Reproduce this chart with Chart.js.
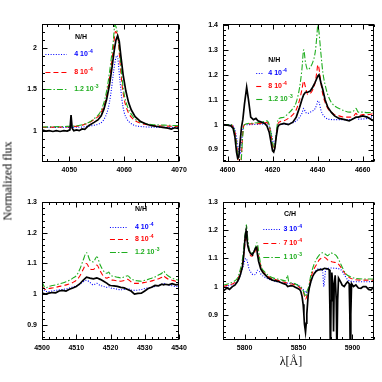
<!DOCTYPE html>
<html>
<head>
<meta charset="utf-8">
<script src="https://cdn.jsdelivr.net/npm/chart.js@4.4.0/dist/chart.umd.min.js"></script>
<style>
body{margin:0;background:#fff;width:382px;height:382px;position:relative;overflow:hidden}
canvas{position:absolute}
#ylab{position:absolute;left:8px;top:181px;transform:translate(-50%,-50%) rotate(-90deg);font:12px "Liberation Serif";white-space:nowrap;color:#000}
#xlab{position:absolute;left:291px;top:361px;transform:translate(-50%,-50%);font:12px "Liberation Serif";white-space:nowrap;color:#000}
</style>
</head>
<body>
<canvas id="c1"></canvas>
<canvas id="c2"></canvas>
<canvas id="c3"></canvas>
<canvas id="c4"></canvas>
<div id="ylab">Normalized flux</div>
<div id="xlab">λ[Å]</div>
<script>
// ---- legend text
var nhMant = ["4", "8", "1.2"];
var nhExp = ["-4", "-4", "-3"];
var chMant = ["3", "7", "1"];
var chExp = ["-4", "-4", "-3"];

// ---- axis ticks
var p1XTicks = [4050, 4060, 4070];
var p1YTicks = [1, 1.5, 2];
var p2XTicks = [4600, 4620, 4640, 4660];
var p2YTicks = [0.9, 1, 1.1, 1.2, 1.3, 1.4];
var p3XTicks = [4500, 4510, 4520, 4530, 4540];
var p3YTicks = [0.9, 1, 1.1, 1.2, 1.3];
var p4XTicks = [5800, 5850, 5900];
var p4YTicks = [0.9, 1, 1.1, 1.2, 1.3];

// ---- panel 1 : 4058 region  [wavelength, flux]
var p1Observed = [[4045,1.01],[4045.7,0.995],[4046.3,1.0],[4047,0.99],[4047.6,1.0],[4048.3,0.99],[4049,1.0],[4049.6,0.995],[4050.1,1.01],[4050.3,1.19],[4050.5,1.03],[4050.8,1.0],[4051.3,1.01],[4051.8,1.0],[4052.3,1.02],[4052.8,1.015],[4053.5,1.06],[4054.5,1.10],[4055.2,1.13],[4055.8,1.18],[4056.3,1.26],[4056.8,1.38],[4057.3,1.55],[4057.8,1.78],[4058.2,1.98],[4058.5,2.10],[4058.8,2.15],[4059.1,2.08],[4059.4,1.90],[4059.8,1.68],[4060.3,1.48],[4060.8,1.34],[4061.3,1.25],[4062,1.17],[4063,1.11],[4064,1.08],[4065,1.06],[4066,1.05],[4067,1.04],[4068,1.03],[4068.6,1.02],[4069.2,1.035],[4070,1.025]];
var p1Low = [[4045,1.04],[4050,1.04],[4052.5,1.045],[4053.5,1.055],[4054.5,1.065],[4055.5,1.085],[4056,1.11],[4056.5,1.16],[4057,1.25],[4057.5,1.42],[4058,1.68],[4058.4,1.86],[4058.7,1.91],[4059.2,1.62],[4059.6,1.37],[4060,1.22],[4060.5,1.14],[4061,1.10],[4061.5,1.075],[4062,1.06],[4063,1.05],[4064,1.045],[4066,1.04],[4070,1.04]];
var p1Mid = [[4045,1.04],[4049,1.045],[4051.5,1.055],[4052.5,1.07],[4053.5,1.095],[4054.5,1.135],[4055.5,1.19],[4056,1.25],[4056.5,1.34],[4057,1.50],[4057.5,1.72],[4058,1.98],[4058.4,2.20],[4058.8,2.15],[4059.2,1.86],[4059.6,1.56],[4060,1.38],[4060.5,1.26],[4061,1.19],[4061.5,1.15],[4062,1.12],[4063,1.09],[4064,1.075],[4065,1.065],[4066,1.06],[4068,1.055],[4070,1.05]];
var p1High = [[4045,1.045],[4049,1.05],[4051.5,1.06],[4052.5,1.075],[4053.5,1.10],[4054.5,1.145],[4055.5,1.21],[4056,1.28],[4056.5,1.39],[4057,1.56],[4057.5,1.80],[4058,2.08],[4058.3,2.28],[4058.7,2.20],[4059.2,1.93],[4059.6,1.64],[4060,1.44],[4060.5,1.31],[4061,1.23],[4061.5,1.18],[4062,1.14],[4063,1.105],[4064,1.085],[4065,1.075],[4066,1.07],[4068,1.065],[4070,1.06]];

// ---- panel 2 : 4600-4660 region
var p2Observed = [[4598,1.0],[4600,0.998],[4601.5,0.995],[4602.5,0.985],[4603.3,0.95],[4604,0.89],[4604.5,0.865],[4605,0.87],[4605.6,0.93],[4606.2,0.99],[4606.8,1.02],[4607.5,1.08],[4608.5,1.15],[4609.3,1.10],[4610.3,1.03],[4611.5,1.02],[4612.6,1.025],[4613.5,1.015],[4615,1.01],[4616.5,1.005],[4617.5,0.995],[4618.5,0.97],[4619.3,0.93],[4620,0.895],[4620.5,0.89],[4621,0.905],[4621.6,0.95],[4622.3,0.99],[4623,1.0],[4625,1.005],[4627,1.0],[4629,1.01],[4630.5,1.03],[4632,1.07],[4633,1.10],[4633.8,1.12],[4634.6,1.13],[4635.6,1.13],[4636.7,1.135],[4637.8,1.15],[4638.9,1.17],[4639.6,1.185],[4640.1,1.195],[4640.6,1.20],[4641.4,1.17],[4642.3,1.14],[4643.3,1.10],[4644.5,1.07],[4646,1.05],[4647.5,1.035],[4649.5,1.025],[4652,1.02],[4654,1.015],[4656,1.025],[4657,1.03],[4658,1.03],[4660,1.035],[4662,1.03],[4665,1.015]];
var p2Low = [[4598,1.0],[4601.5,1.0],[4602.5,0.995],[4603.3,0.98],[4604,0.95],[4604.5,0.92],[4605,0.895],[4605.6,0.88],[4606.2,0.92],[4606.8,0.98],[4607.5,1.0],[4610,1.0],[4615,1.002],[4617.5,1.003],[4618.5,0.995],[4619.3,0.97],[4620,0.94],[4620.5,0.925],[4621,0.93],[4621.6,0.96],[4622.3,0.995],[4623,1.0],[4627,1.003],[4630.5,1.015],[4632,1.03],[4633,1.045],[4633.8,1.065],[4634.6,1.05],[4635.6,1.045],[4636.7,1.05],[4637.8,1.055],[4638.9,1.065],[4639.6,1.08],[4640.1,1.095],[4640.6,1.09],[4641.4,1.06],[4642.3,1.04],[4643.3,1.03],[4644.5,1.022],[4647.5,1.02],[4652,1.02],[4656,1.023],[4657,1.03],[4658,1.022],[4662,1.025],[4665,1.035]];
var p2Mid = [[4598,1.0],[4601.5,1.0],[4602.5,0.99],[4603.3,0.97],[4604,0.93],[4604.5,0.88],[4605,0.84],[4605.6,0.82],[4606.2,0.88],[4606.8,0.97],[4607.5,1.0],[4610,1.003],[4615,1.005],[4617.5,1.008],[4618.5,0.995],[4619.3,0.96],[4620,0.92],[4620.5,0.90],[4621,0.91],[4621.6,0.95],[4622.3,1.0],[4623,1.01],[4625,1.015],[4627,1.025],[4629,1.04],[4630.5,1.06],[4632,1.10],[4633,1.14],[4633.8,1.175],[4634.6,1.15],[4635.6,1.12],[4636.7,1.125],[4637.8,1.14],[4638.9,1.17],[4639.6,1.21],[4640.1,1.24],[4640.6,1.225],[4641.4,1.17],[4642.3,1.12],[4643.3,1.09],[4644.5,1.065],[4646,1.05],[4647.5,1.04],[4649.5,1.035],[4652,1.03],[4654,1.03],[4656,1.035],[4657,1.045],[4658,1.035],[4660,1.04],[4662,1.04],[4665,1.045]];
var p2High = [[4598,1.0],[4601.5,1.0],[4602.5,0.99],[4603.3,0.965],[4604,0.92],[4604.5,0.87],[4605,0.83],[4605.6,0.81],[4606.2,0.87],[4606.8,0.96],[4607.5,1.0],[4610,1.005],[4615,1.01],[4617.5,1.015],[4618.5,1.0],[4619.3,0.965],[4620,0.93],[4620.5,0.91],[4621,0.92],[4621.6,0.96],[4622.3,1.015],[4623,1.025],[4625,1.03],[4627,1.045],[4629,1.065],[4630.5,1.09],[4632,1.15],[4633,1.22],[4633.8,1.30],[4634.6,1.25],[4635.6,1.22],[4636.7,1.23],[4637.8,1.25],[4638.9,1.29],[4639.6,1.35],[4640.1,1.40],[4640.6,1.37],[4641.4,1.29],[4642.3,1.21],[4643.3,1.16],[4644.5,1.12],[4646,1.09],[4647.5,1.075],[4649.5,1.065],[4652,1.055],[4654,1.05],[4656,1.055],[4657,1.065],[4658,1.05],[4660,1.05],[4662,1.048],[4665,1.05]];

// ---- panel 3 : 4500-4540 region (shared wavelength grid)
var p3Wave = [4500,4501,4502,4503,4504,4505,4506,4507,4508,4509,4510,4511,4512,4513,4514,4515,4516,4517,4518,4519,4519.5,4520,4521,4522,4523,4524,4525,4526,4527,4528,4529,4530,4531,4532,4533,4534,4535,4535.5,4536,4537,4538,4539,4540];
var p3Observed = [1.003,1.0,1.003,1.005,1.004,1.01,1.012,1.01,1.016,1.02,1.025,1.033,1.045,1.055,1.052,1.05,1.053,1.048,1.042,1.035,1.03,1.028,1.027,1.025,1.022,1.02,1.015,1.01,1.0,1.002,1.003,1.01,1.018,1.022,1.028,1.027,1.032,1.03,1.032,1.03,1.034,1.03,1.032];
var p3Low = [1.02,1.01,1.008,1.01,1.012,1.014,1.015,1.017,1.02,1.023,1.027,1.032,1.040,1.045,1.038,1.030,1.035,1.028,1.025,1.022,1.024,1.020,1.018,1.016,1.014,1.015,1.018,1.013,1.012,1.013,1.015,1.018,1.020,1.022,1.025,1.028,1.032,1.035,1.032,1.030,1.027,1.025,1.025];
var p3Mid = [1.025,1.015,1.018,1.02,1.022,1.025,1.027,1.03,1.033,1.038,1.045,1.058,1.080,1.100,1.082,1.080,1.095,1.075,1.058,1.052,1.055,1.048,1.045,1.043,1.042,1.044,1.048,1.040,1.035,1.035,1.036,1.038,1.040,1.043,1.046,1.050,1.055,1.060,1.055,1.048,1.045,1.042,1.040];
var p3High = [1.04,1.02,1.025,1.028,1.03,1.033,1.036,1.04,1.045,1.052,1.06,1.08,1.11,1.135,1.11,1.105,1.122,1.095,1.075,1.068,1.072,1.062,1.058,1.055,1.053,1.056,1.06,1.05,1.045,1.043,1.042,1.045,1.048,1.052,1.056,1.062,1.068,1.075,1.068,1.058,1.052,1.048,1.045];

// ---- panel 4 : 5800-5900 region
var p4Observed = [[5780,0.983],[5782,0.99],[5784,0.995],[5786,0.99],[5788.7,1.0],[5791,1.005],[5793.3,1.017],[5795,1.03],[5796.4,1.046],[5798,1.07],[5798.9,1.098],[5799.8,1.14],[5800.6,1.18],[5801.4,1.198],[5802.2,1.17],[5803,1.145],[5804,1.13],[5805.1,1.12],[5807.2,1.112],[5808.8,1.125],[5810.3,1.138],[5811.2,1.14],[5811.9,1.115],[5813,1.09],[5815,1.063],[5817,1.05],[5819.6,1.04],[5822,1.03],[5825.8,1.023],[5829,1.02],[5832,1.017],[5835,1.012],[5838.2,1.008],[5840,1.0],[5842.8,1.003],[5845,1.002],[5847,0.998],[5849,0.994],[5851,0.99],[5852.1,0.983],[5853.3,0.965],[5854.3,0.937],[5855,0.90],[5855.5,0.867],[5856.5,0.838],[5857.2,0.87],[5857.7,0.902],[5858.4,0.94],[5859,0.971],[5860,0.995],[5861.4,1.017],[5863,1.035],[5864.5,1.046],[5866,1.053],[5867.6,1.058],[5870,1.06],[5872.3,1.061],[5874,1.065],[5876.9,1.063],[5878.5,1.06],[5879.2,0.9],[5879.6,0.75],[5880.2,0.95],[5880.9,1.05],[5882,1.0],[5882.5,0.84],[5883.1,1.0],[5884,1.04],[5885,0.95],[5885.6,0.75],[5886.3,0.95],[5887.1,1.03],[5889.3,1.015],[5890.5,1.005],[5892.4,1.0],[5894,1.01],[5895.5,1.017],[5897,1.01],[5897.6,0.9],[5898,0.75],[5898.5,0.9],[5899.2,1.01],[5901,1.0],[5903.2,1.006],[5905.5,0.995],[5907.9,0.994],[5910,1.0],[5912.5,1.0],[5915,0.99],[5917.2,0.988],[5920,1.0]];
var p4Low = [[5780,1.0],[5785,1.003],[5790,1.01],[5793.3,1.017],[5796,1.04],[5798.5,1.07],[5800.4,1.095],[5801.4,1.10],[5802.5,1.09],[5804,1.065],[5806,1.05],[5808,1.042],[5810.5,1.045],[5812,1.058],[5813.5,1.055],[5815,1.045],[5818,1.035],[5822,1.027],[5827,1.02],[5833,1.015],[5840,1.012],[5845,1.01],[5850,1.005],[5853,0.994],[5855.5,0.985],[5857,0.977],[5859,0.99],[5861.4,1.015],[5864.5,1.045],[5867,1.06],[5869.2,1.063],[5871,1.062],[5872.5,1.05],[5873.5,1.0],[5874.3,1.03],[5875.3,1.06],[5878,1.065],[5880,1.066],[5884,1.065],[5889.3,1.06],[5892,1.045],[5895.5,1.025],[5900,1.018],[5905,1.017],[5912,1.017],[5920,1.018]];
var p4Mid = [[5780,1.0],[5785,1.005],[5790,1.012],[5793.3,1.023],[5796,1.05],[5798.5,1.09],[5800,1.14],[5801,1.17],[5801.7,1.18],[5802.7,1.16],[5804.5,1.12],[5806.5,1.108],[5808.8,1.115],[5810.5,1.135],[5811.3,1.145],[5812.5,1.12],[5814,1.09],[5815.5,1.065],[5818,1.05],[5822,1.035],[5827,1.027],[5833,1.02],[5840,1.012],[5845,1.008],[5850,1.0],[5853,0.99],[5855,0.975],[5856.5,0.954],[5858,0.97],[5859.5,0.99],[5861.4,1.03],[5864.5,1.063],[5867,1.08],[5869.2,1.095],[5872.3,1.103],[5874,1.104],[5877,1.095],[5880,1.09],[5882,1.087],[5886,1.083],[5889,1.07],[5892.4,1.05],[5895,1.04],[5898,1.03],[5902,1.025],[5910,1.023],[5920,1.023]];
var p4High = [[5780,1.005],[5785,1.01],[5790,1.018],[5793.3,1.03],[5796,1.06],[5798.5,1.11],[5800,1.17],[5801,1.20],[5801.7,1.22],[5802.7,1.18],[5804.5,1.13],[5806.5,1.12],[5808.8,1.125],[5810.5,1.145],[5811.5,1.156],[5812.5,1.14],[5814,1.10],[5815.5,1.07],[5818,1.055],[5822,1.04],[5827,1.03],[5833,1.025],[5838,1.02],[5839.8,1.04],[5840.8,1.02],[5845,1.012],[5850,1.003],[5853,0.995],[5855,0.98],[5856.5,0.965],[5858,0.985],[5859.5,1.0],[5861.4,1.04],[5864.5,1.08],[5867,1.10],[5869.2,1.112],[5872.3,1.12],[5875,1.115],[5877,1.11],[5880,1.12],[5882,1.117],[5885,1.11],[5888,1.09],[5891,1.065],[5894,1.045],[5898,1.035],[5902,1.03],[5910,1.027],[5920,1.027]];

var BLUE = "#0000ff", RED = "#ff0000", GREEN = "#1fae1f";
var TICKFONT = "Liberation Sans";

function pairs(arr){ return arr.map(function(p){ return {x:p[0], y:p[1]}; }); }
function grid(xs, ys){ return xs.map(function(x,i){ return {x:x, y:ys[i]}; }); }

function fmt(v){ return String(Math.round(v*100)/100); }

var styles = [
  {color:"#000", width:1.7, dash:[], order:0, smooth:false},
  {color:BLUE, width:1.1, dash:[1,1.6], order:3, smooth:true},
  {color:RED, width:1.1, dash:[5,3], order:2, smooth:true},
  {color:GREEN, width:1.1, dash:[6,2,1.5,2], order:1, smooth:true}
];

function drawExpLabel(ctx, x, y, mant, exp, color){
  ctx.fillStyle = color;
  ctx.textBaseline = "middle";
  ctx.textAlign = "left";
  ctx.font = "bold 7px " + TICKFONT;
  var base = mant + " 10";
  ctx.fillText(base, x, y);
  var w = ctx.measureText(base).width;
  ctx.font = "bold 5px " + TICKFONT;
  ctx.fillText(exp, x + w + 0.5, y - 3);
}

var framePlugin = {
  id: "frame",
  afterDatasetsDraw: function(chart, args, o){
    var ctx = chart.ctx, a = chart.chartArea;
    var xs = chart.scales.x, ys = chart.scales.y;
    ctx.save();
    ctx.strokeStyle = "#000";
    ctx.lineWidth = 1;
    ctx.setLineDash([]);
    var L = Math.round(a.left) + 0.5, R = Math.round(a.right) - 0.5;
    var T = Math.round(a.top) + 0.5, B = Math.round(a.bottom) - 0.5;
    ctx.strokeRect(L, T, R - L, B - T);
    ctx.beginPath();
    function xTick(v, len){
      var px = Math.round(xs.getPixelForValue(v)) + 0.5;
      ctx.moveTo(px, B); ctx.lineTo(px, B - len);
      ctx.moveTo(px, T); ctx.lineTo(px, T + len);
    }
    function yTick(v, len){
      var py = Math.round(ys.getPixelForValue(v)) + 0.5;
      ctx.moveTo(L, py); ctx.lineTo(L + len, py);
      ctx.moveTo(R, py); ctx.lineTo(R - len, py);
    }
    var i, v;
    for(i = Math.ceil(xs.min / o.xMinor - 1e-6); i * o.xMinor <= xs.max + 1e-6; i++){
      v = i * o.xMinor;
      var isMajX = o.xMajor.some(function(m){ return Math.abs(m - v) < 1e-6; });
      xTick(v, isMajX ? 5 : 2.5);
    }
    for(i = Math.ceil(ys.min / o.yMinor - 1e-6); i * o.yMinor <= ys.max + 1e-6; i++){
      v = i * o.yMinor;
      var isMajY = o.yMajor.some(function(m){ return Math.abs(m - v) < 1e-6; });
      yTick(v, isMajY ? 5 : 2.5);
    }
    ctx.stroke();

    // legend block
    var lg = o.legend, w = a.right - a.left, h = a.bottom - a.top;
    ctx.fillStyle = "#000";
    ctx.font = "bold 7px " + TICKFONT;
    ctx.textBaseline = "middle";
    ctx.textAlign = "left";
    ctx.fillText(lg.title, a.left + lg.titleX * w, a.top + lg.titleY * h);
    for(var r = 0; r < 3; r++){
      var st = styles[r + 1];
      var ry = Math.round(a.top + lg.rows[r] * h) + 0.5;
      ctx.strokeStyle = st.color;
      ctx.lineWidth = 1.1;
      ctx.setLineDash(st.dash);
      ctx.beginPath();
      ctx.moveTo(a.left + lg.line[0] * w, ry);
      ctx.lineTo(a.left + lg.line[1] * w, ry);
      ctx.stroke();
      drawExpLabel(ctx, a.left + lg.textX * w, ry, lg.mant[r], lg.exp[r], st.color);
    }
    ctx.restore();
  }
};

function makePanel(id, box, xr, yr, xTicks, yTicks, xMinor, yMinor, series, legend){
  var padL = 32, padB = 16, padT = 6, padR = 12;
  var cv = document.getElementById(id);
  cv.width = box.r - box.l + padL + padR;
  cv.height = box.b - box.t + padT + padB;
  cv.style.left = (box.l - padL) + "px";
  cv.style.top = (box.t - padT) + "px";
  var datasets = series.map(function(d, i){
    var st = styles[i];
    return {
      data: d,
      borderColor: st.color,
      borderWidth: st.width,
      borderDash: st.dash,
      pointRadius: 0,
      fill: false,
      order: st.order,
      cubicInterpolationMode: st.smooth ? "monotone" : "default",
      tension: 0
    };
  });
  var tickFont = {family: TICKFONT, size: 7, weight: "bold"};
  return new Chart(cv, {
    type: "line",
    data: {datasets: datasets},
    options: {
      responsive: false,
      animation: false,
      events: [],
      layout: {padding: {left: 0, right: padR, top: padT, bottom: 0}},
      plugins: {
        legend: {display: false},
        tooltip: {enabled: false},
        frame: {xMajor: xTicks, yMajor: yTicks, xMinor: xMinor, yMinor: yMinor, legend: legend}
      },
      scales: {
        x: {
          type: "linear", min: xr[0], max: xr[1],
          grid: {display: false, drawTicks: false},
          border: {display: false},
          afterBuildTicks: function(s){ s.ticks = xTicks.map(function(v){ return {value: v}; }); },
          afterFit: function(s){ s.height = padB; },
          ticks: {padding: 4, autoSkip: false, maxRotation: 0, color: "#000", font: tickFont, callback: fmt}
        },
        y: {
          type: "linear", min: yr[0], max: yr[1],
          grid: {display: false, drawTicks: false},
          border: {display: false},
          afterBuildTicks: function(s){ s.ticks = yTicks.map(function(v){ return {value: v}; }); },
          afterFit: function(s){ s.width = padL; },
          ticks: {padding: 5, autoSkip: false, color: "#000", font: tickFont, callback: fmt}
        }
      }
    },
    plugins: [framePlugin]
  });
}

makePanel("c1", {l:42, r:179, t:21, b:162}, [4045, 4070], [0.62, 2.29], p1XTicks, p1YTicks, 2, 0.1,
  [pairs(p1Observed), pairs(p1Low), pairs(p1Mid), pairs(p1High)],
  {title:"N/H", titleX:0.24, titleY:0.09, line:[0.025, 0.18], textX:0.235, rows:[0.213, 0.344, 0.468], mant:nhMant, exp:nhExp});

makePanel("c2", {l:223, r:374, t:21, b:162}, [4598, 4665], [0.85, 1.403], p2XTicks, p2YTicks, 5, 0.02,
  [pairs(p2Observed), pairs(p2Low), pairs(p2Mid), pairs(p2High)],
  {title:"N/H", titleX:0.30, titleY:0.257, line:[0.22, 0.265], textX:0.30, rows:[0.352, 0.445, 0.54], mant:nhMant, exp:nhExp});

makePanel("c3", {l:42, r:179, t:199, b:340}, [4500, 4540], [0.85, 1.3], p3XTicks, p3YTicks, 2, 0.02,
  [grid(p3Wave, p3Observed), grid(p3Wave, p3Low), grid(p3Wave, p3Mid), grid(p3Wave, p3High)],
  {title:"N/H", titleX:0.679, titleY:0.05, line:[0.496, 0.628], textX:0.679, rows:[0.181, 0.27, 0.358], mant:nhMant, exp:nhExp});

makePanel("c4", {l:223, r:374, t:199, b:340}, [5780, 5920], [0.81, 1.3], p4XTicks, p4YTicks, 10, 0.02,
  [pairs(p4Observed), pairs(p4Low), pairs(p4Mid), pairs(p4High)],
  {title:"C/H", titleX:0.404, titleY:0.085, line:[0.267, 0.377], textX:0.40, rows:[0.197, 0.298, 0.397], mant:chMant, exp:chExp});
</script>
</body>
</html>
